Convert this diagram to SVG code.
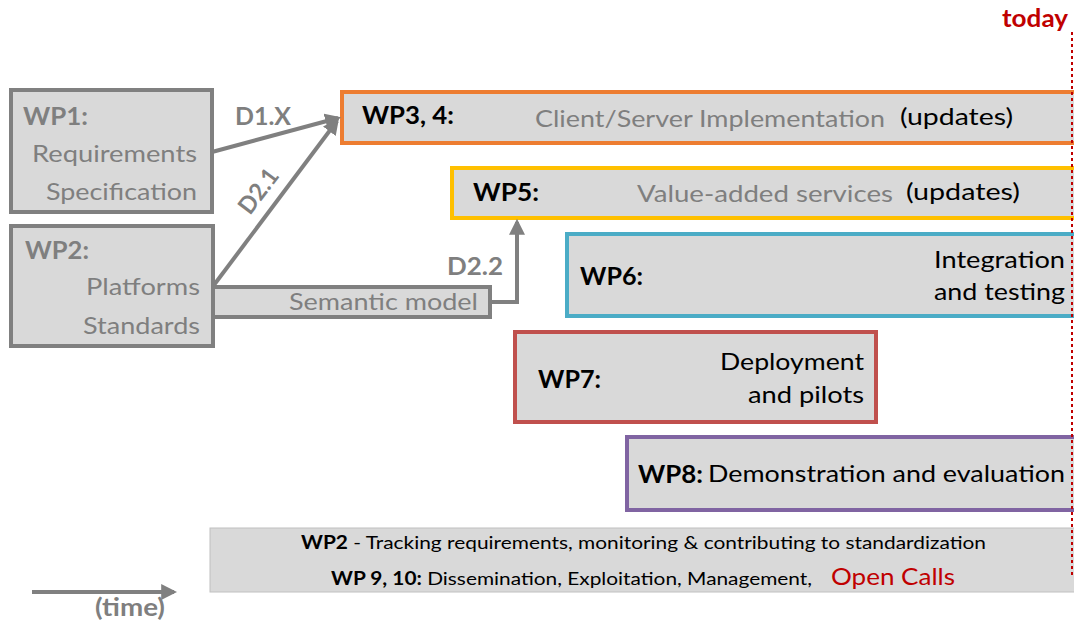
<svg xmlns="http://www.w3.org/2000/svg" width="1074" height="622" viewBox="0 0 1074 622">
  <style>
    text { font-family: Lato, "Open Sans", "Noto Sans", sans-serif; }
    .box { fill: #d9d9d9; }
    .grey { stroke: #808080; stroke-width: 4; }
    .lbl-g { fill: #7f7f7f; font-size: 24px; }
    .lbl-gb { fill: #7f7f7f; font-size: 24px; font-weight: bold; }
    .lbl-k { fill: #000; font-size: 24px; }
    .lbl-kb { fill: #000; font-size: 24px; font-weight: bold; }
    .small { fill: #000; font-size: 18px; }
    .edge { stroke: #808080; stroke-width: 4; fill: none; }
  </style>
  <defs>
    <marker id="arrow" viewBox="0 0 10 10" refX="8" refY="5" markerWidth="4" markerHeight="4" orient="auto" markerUnits="strokeWidth">
      <path d="M0,0 L10,5 L0,10 z" fill="#808080"/>
    </marker>
  </defs>

  <rect width="1074" height="622" fill="#fff"/>

  <!-- ongoing tasks band -->
  <g id="band">
    <rect x="210" y="528" width="866" height="64" class="box" stroke="#c0c0c0" stroke-width="1"/>
    <text x="301" y="549" class="small" textLength="685" lengthAdjust="spacingAndGlyphs"><tspan font-weight="bold">WP2</tspan> - Tracking requirements, monitoring &amp; contributing to standardization</text>
    <text x="331" y="585" class="small" textLength="481" lengthAdjust="spacingAndGlyphs"><tspan font-weight="bold">WP 9, 10:</tspan> Dissemination, Exploitation, Management,</text>
    <text x="831" y="585" fill="#c00000" font-size="24" textLength="124" lengthAdjust="spacingAndGlyphs">Open Calls</text>
  </g>

  <g id="wp1">
    <rect x="11" y="90" width="201" height="122" class="box grey"/>
    <text x="23" y="125" class="lbl-gb" textLength="65" lengthAdjust="spacingAndGlyphs">WP1:</text>
    <text x="197" y="162" class="lbl-g" text-anchor="end" textLength="165" lengthAdjust="spacingAndGlyphs">Requirements</text>
    <text x="197" y="200" class="lbl-g" text-anchor="end" textLength="151" lengthAdjust="spacingAndGlyphs">Specification</text>
  </g>

  <g id="wp2">
    <rect x="11" y="226" width="202" height="120" class="box grey"/>
    <text x="25" y="259" class="lbl-gb" textLength="64" lengthAdjust="spacingAndGlyphs">WP2:</text>
    <text x="200" y="295" class="lbl-g" text-anchor="end" textLength="114" lengthAdjust="spacingAndGlyphs">Platforms</text>
    <text x="200" y="334" class="lbl-g" text-anchor="end" textLength="117" lengthAdjust="spacingAndGlyphs">Standards</text>
  </g>

  <g id="semantic-model">
    <rect x="213" y="287" width="277" height="30" class="box grey"/>
    <text x="478" y="310" class="lbl-g" font-size="23" text-anchor="end" textLength="189" lengthAdjust="spacingAndGlyphs">Semantic model</text>
  </g>

  <g id="wp34">
    <rect x="342" y="92" width="740" height="51" class="box" stroke="#ed7d31" stroke-width="4"/>
    <text x="362" y="124" class="lbl-kb" textLength="92" lengthAdjust="spacingAndGlyphs">WP3, 4:</text>
    <text x="535" y="127" class="lbl-g" textLength="350" lengthAdjust="spacingAndGlyphs">Client/Server Implementation</text>
    <text x="900" y="125" class="lbl-k" textLength="113" lengthAdjust="spacingAndGlyphs">(updates)</text>
  </g>

  <g id="wp5">
    <rect x="452" y="168" width="630" height="50" class="box" stroke="#ffc000" stroke-width="4"/>
    <text x="473" y="201" class="lbl-kb" textLength="66" lengthAdjust="spacingAndGlyphs">WP5:</text>
    <text x="637" y="202" class="lbl-g" textLength="256" lengthAdjust="spacingAndGlyphs">Value-added  services</text>
    <text x="906" y="200" class="lbl-k" textLength="114" lengthAdjust="spacingAndGlyphs">(updates)</text>
  </g>

  <g id="wp6">
    <rect x="567" y="234" width="515" height="82" class="box" stroke="#4bacc6" stroke-width="4"/>
    <text x="580" y="285" class="lbl-kb" textLength="63" lengthAdjust="spacingAndGlyphs">WP6:</text>
    <text x="1065" y="268" class="lbl-k" text-anchor="end" textLength="131" lengthAdjust="spacingAndGlyphs">Integration</text>
    <text x="1065" y="300" class="lbl-k" text-anchor="end" textLength="131" lengthAdjust="spacingAndGlyphs">and testing</text>
  </g>

  <g id="wp7">
    <rect x="515" y="332" width="361" height="90" class="box" stroke="#c0504d" stroke-width="4"/>
    <text x="538" y="388" class="lbl-kb" textLength="63" lengthAdjust="spacingAndGlyphs">WP7:</text>
    <text x="864" y="370" class="lbl-k" text-anchor="end" textLength="144" lengthAdjust="spacingAndGlyphs">Deployment</text>
    <text x="864" y="403" class="lbl-k" text-anchor="end" textLength="116" lengthAdjust="spacingAndGlyphs">and pilots</text>
  </g>

  <g id="wp8">
    <rect x="627" y="437" width="455" height="73" class="box" stroke="#8064a2" stroke-width="4"/>
    <text x="638" y="483" class="lbl-kb" textLength="65" lengthAdjust="spacingAndGlyphs">WP8:</text>
    <text x="708" y="482" class="lbl-k" textLength="357" lengthAdjust="spacingAndGlyphs">Demonstration and evaluation</text>
  </g>

  <!-- deliverable flows between work packages -->
  <g id="connectors">
    <line x1="212" y1="152" x2="338" y2="118" class="edge" marker-end="url(#arrow)"/>
    <line x1="214" y1="285" x2="337" y2="121" class="edge" marker-end="url(#arrow)"/>
    <polyline points="490,302 517,302 517,222" class="edge" marker-end="url(#arrow)"/>
    <text x="235" y="125" class="lbl-gb" textLength="56" lengthAdjust="spacingAndGlyphs">D1.X</text>
    <text x="0" y="0" class="lbl-gb" transform="translate(250,216) rotate(-53)" textLength="50" lengthAdjust="spacingAndGlyphs">D2.1</text>
    <text x="447" y="275" class="lbl-gb" textLength="56" lengthAdjust="spacingAndGlyphs">D2.2</text>
  </g>

  <!-- time axis -->
  <g id="time-axis">
    <line x1="32" y1="592" x2="174" y2="592" class="edge" marker-end="url(#arrow)"/>
    <text x="95" y="616" class="lbl-gb" textLength="70" lengthAdjust="spacingAndGlyphs">(time)</text>
  </g>

  <!-- current date marker -->
  <g id="today">
    <line x1="1072" y1="32" x2="1072" y2="578" stroke="#c00000" stroke-width="2" stroke-dasharray="3,3"/>
    <text x="1068" y="27" fill="#c00000" font-size="24" font-weight="bold" text-anchor="end" textLength="66" lengthAdjust="spacingAndGlyphs">today</text>
  </g>
</svg>
